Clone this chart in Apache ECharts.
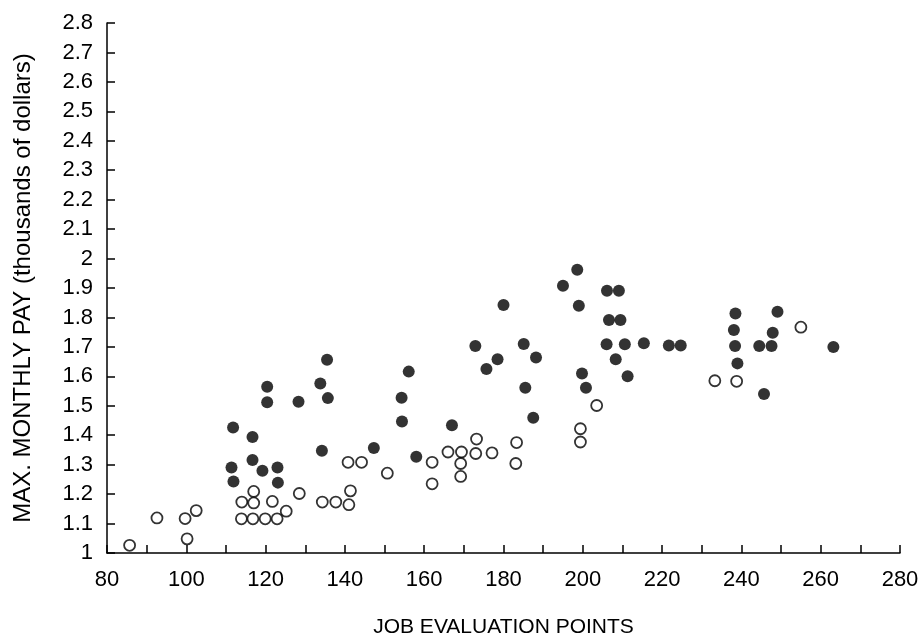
<!DOCTYPE html>
<html>
<head>
<meta charset="utf-8">
<script src="https://cdn.jsdelivr.net/npm/echarts@6/dist/echarts.min.js"></script>
<style>
  html, body { margin: 0; padding: 0; background: #fff; }
  #chart { width: 923px; height: 643px; }
</style>
</head>
<body>
<div id="chart"></div>
<script>
// filled dots
var filledX = [111.8, 111.4, 111.9, 116.7, 116.7, 119.2, 120.4, 120.4, 123.0, 123.1,
    128.3, 135.5, 133.8, 135.7, 134.2, 147.3, 154.3, 154.4, 156.1, 158.0,
    167.0, 172.9, 178.5, 175.7, 180.0, 185.1, 188.2, 185.5, 187.5, 198.6,
    195.0, 199.0, 206.1, 209.1, 206.6, 209.5, 206.0, 210.6, 215.4, 221.7,
    224.7, 208.3, 211.3, 199.8, 200.8, 238.5, 238.1, 238.4, 239.0, 249.1,
    247.9, 244.5, 247.6, 245.7, 263.2];
var filledY = [1.426, 1.29, 1.243, 1.394, 1.316, 1.279, 1.565, 1.512, 1.29, 1.239,
    1.514, 1.656, 1.576, 1.526, 1.347, 1.357, 1.527, 1.447, 1.616, 1.327,
    1.434, 1.703, 1.658, 1.625, 1.842, 1.71, 1.664, 1.561, 1.459, 1.962,
    1.908, 1.84, 1.891, 1.891, 1.791, 1.791, 1.709, 1.709, 1.712, 1.705,
    1.705, 1.658, 1.6, 1.61, 1.561, 1.813, 1.757, 1.703, 1.644, 1.819,
    1.748, 1.703, 1.703, 1.54, 1.7];
// open circles
var openX = [85.7, 92.6, 99.7, 102.5, 100.2, 114.0, 117.0, 117.0, 121.7, 113.9,
    116.8, 119.9, 122.9, 125.2, 128.5, 134.3, 137.7, 141.0, 141.4, 140.8,
    144.2, 150.7, 162.0, 162.0, 166.0, 169.4, 169.2, 169.2, 173.2, 173.0,
    177.1, 183.3, 183.1, 203.5, 199.4, 199.4, 233.3, 238.8, 255.0];
var openY = [1.026, 1.119, 1.117, 1.144, 1.048, 1.173, 1.209, 1.17, 1.175, 1.116,
    1.116, 1.116, 1.116, 1.142, 1.202, 1.173, 1.173, 1.164, 1.211, 1.308,
    1.308, 1.271, 1.308, 1.235, 1.343, 1.343, 1.304, 1.26, 1.387, 1.338,
    1.34, 1.375, 1.304, 1.501, 1.422, 1.377, 1.585, 1.583, 1.767];

function zip(xs, ys) {
    var out = [];
    for (var i = 0; i < xs.length; i++) {
        out.push([xs[i], ys[i]]);
    }
    return out;
}

var font = 'Liberation Sans';
var myChart = echarts.init(document.getElementById('chart'));

var option = {
    animation: false,
    backgroundColor: '#fff',
    grid: { left: 107, right: 23, top: 23, bottom: 86 },
    xAxis: {
        type: 'value',
        min: 80, max: 280, interval: 10,
        name: 'JOB EVALUATION POINTS',
        nameLocation: 'middle',
        nameGap: 64,
        nameTextStyle: { fontFamily: font, fontSize: 21, color: '#000' },
        axisLine: { show: true, lineStyle: { color: '#000', width: 1.5 } },
        axisTick: { show: true, inside: true, length: 8, lineStyle: { color: '#000', width: 1.5 } },
        axisLabel: {
            margin: 16, fontFamily: font, fontSize: 22, color: '#000',
            formatter: function (v) { return v % 20 === 0 ? v : ''; }
        },
        splitLine: { show: false }
    },
    yAxis: {
        type: 'value',
        min: 1, max: 2.8, interval: 0.1,
        name: 'MAX. MONTHLY PAY (thousands of dollars)',
        nameLocation: 'middle',
        nameGap: 72,
        nameTextStyle: { fontFamily: font, fontSize: 24, color: '#000' },
        axisLine: { show: true, lineStyle: { color: '#000', width: 1.5 } },
        axisTick: { show: true, inside: true, length: 8, lineStyle: { color: '#000', width: 1.5 } },
        axisLabel: { margin: 14, fontFamily: font, fontSize: 22, color: '#000' },
        splitLine: { show: false }
    },
    series: [
        {
            name: 'filled',
            type: 'scatter',
            symbol: 'circle',
            symbolSize: 12,
            itemStyle: { color: '#000' },
            data: zip(filledX, filledY)
        },
        {
            name: 'open',
            type: 'scatter',
            symbol: 'circle',
            symbolSize: 11,
            itemStyle: { color: '#fff', borderColor: '#000', borderWidth: 1.8 },
            data: zip(openX, openY)
        }
    ]
};
myChart.setOption(option);
</script>
</body>
</html>
